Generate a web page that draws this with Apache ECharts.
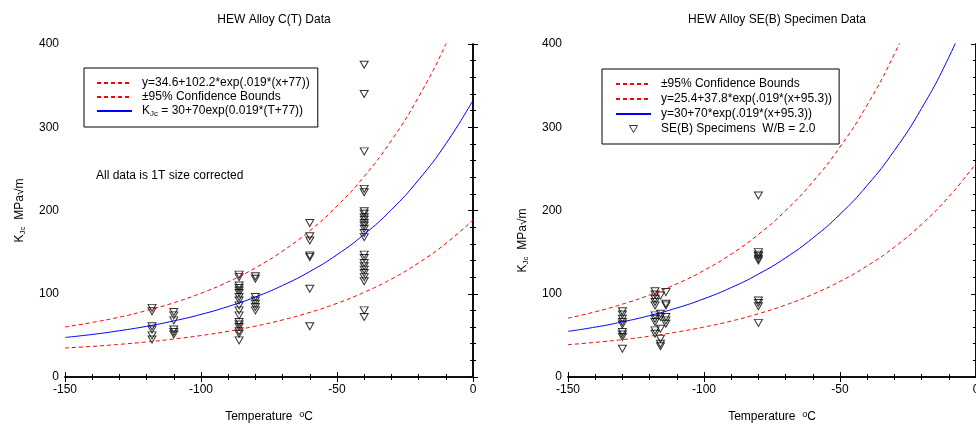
<!DOCTYPE html>
<html>
<head>
<meta charset="utf-8">
<script src="https://cdn.jsdelivr.net/npm/echarts@6.0.0/dist/echarts.min.js"></script>
<style>
  html, body { margin: 0; padding: 0; background: #fff; }
  #chart { width: 976px; height: 429px; }
</style>
</head>
<body>
<div id="chart"></div>
<script>
var tempGrid = [-150, -140, -130, -120, -110, -100, -90, -80, -70, -60, -50, -40, -30, -20, -10, 0];

// C(T) panel curves
var ctFit   = [47.5, 51.1, 55.6, 60.9, 67.4, 75.2, 84.7, 96.1, 110.0, 126.7, 146.9, 171.4, 200.9, 236.8, 280.0, 332.3];
var ctUpper = [60.1, 65.5, 71.9, 79.8, 89.2, 100.6, 114.4, 131.1, 151.3, 175.7, 205.3, 241.0, 284.2, 336.5, 399.7, 476.0];
var ctLower = [34.8, 36.8, 39.2, 42.1, 45.6, 49.8, 54.9, 61.1, 68.6, 77.6, 88.5, 101.8, 117.7, 137.1, 160.4, 188.7];

// SE(B) panel curves
var sebFit   = [54.8, 59.9, 66.2, 73.8, 82.9, 94.0, 107.4, 123.6, 143.2, 166.9, 195.5, 230.2, 272.1, 322.7, 384.0, 458.0];
var sebUpper = [70.7, 78.3, 87.5, 98.5, 111.9, 128.1, 147.6, 171.3, 199.9, 234.5, 276.3, 326.9, 388.0, 462.0, 551.4, 659.5];
var sebLower = [38.8, 41.6, 44.9, 49.0, 54.0, 60.0, 67.2, 76.0, 86.5, 99.3, 114.8, 133.5, 156.1, 183.5, 216.5, 256.5];

// C(T) specimens: test temperature and KJc values at it
var ctTemp = [-118, -110, -86, -80, -60, -40];
var ctKjc = [
  [83, 79, 61, 57, 50, 45],
  [78, 74, 68, 57, 54, 51],
  [123, 120, 110, 107, 104, 101, 96, 92, 86, 80, 74, 66, 63, 60, 55, 52, 44],
  [121, 118, 96, 92, 88, 84, 80],
  [185, 169, 164, 146, 144, 106, 61],
  [375, 340, 271, 226, 222, 199, 196, 192, 189, 185, 182, 178, 173, 168, 147, 143, 137, 133, 129, 125, 120, 115, 80, 72]
];

// SE(B) specimens
var sebTemp = [-130, -118, -116, -114, -80];
var sebKjc = [
  [79, 75, 70, 66, 63, 54, 51, 48, 34],
  [103, 99, 94, 90, 86, 74, 70, 66, 56, 52],
  [98, 76, 72, 58, 46, 40, 37],
  [102, 88, 86, 72, 68, 64],
  [218, 150, 147, 145, 142, 140, 92, 89, 85, 65]
];

var xTicks = { min: -150, max: 0, interval: 50 };
var yTicks = { min: 0, max: 400, interval: 100 };

var FONT = 'Liberation Sans, Arial, sans-serif';

function pairs(xs, ys) {
  return xs.map(function (x, i) { return [x, ys[i]]; });
}
function flatten(temps, groups) {
  var out = [];
  temps.forEach(function (t, i) {
    groups[i].forEach(function (k) { out.push([t, k]); });
  });
  return out;
}

var richText = {
  n: { fontSize: 12, fontFamily: FONT, color: '#000', lineHeight: 14, verticalAlign: 'middle' },
  sub: { fontSize: 8, fontFamily: FONT, color: '#000', lineHeight: 8, verticalAlign: 'bottom' },
  sup: { fontSize: 9, fontFamily: FONT, color: '#000', lineHeight: 9, verticalAlign: 'top' }
};

function frameAxes(gridIndex, kind, extra) {
  var line = { show: true, lineStyle: { color: '#000', width: 1.5 } };
  var tick = { show: true, inside: true, length: 5, lineStyle: { color: '#000' } };
  var minor = { show: true, splitNumber: 5, length: 3, lineStyle: { color: '#000' } };
  var r = kind === 'x' ? xTicks : yTicks;
  return Object.assign({
    type: 'value',
    gridIndex: gridIndex,
    min: r.min, max: r.max, interval: r.interval,
    axisLine: line, axisTick: tick, minorTick: minor,
    splitLine: { show: false }, minorSplitLine: { show: false },
    axisLabel: { show: false }
  }, extra);
}

var xLabel = { show: true, margin: 7, fontSize: 12, fontFamily: FONT, color: '#000' };
var yLabel = { show: true, margin: 6, fontSize: 12, fontFamily: FONT, color: '#000' };
var xName = '{n|Temperature  }{sup|o}{n|C}';
var yName = '{n|K}{sub|Jc}{n|  MPa\u221Am}';

var dashRed = { color: '#ff0000', width: 1, type: [4, 3] };
var solidBlue = { color: '#0000ff', width: 1 };
var openTri = { color: 'rgba(0,0,0,0)', borderColor: '#000', borderWidth: 1 };
var triangle = {
  type: 'scatter', symbol: 'triangle', symbolRotate: 180, symbolSize: [8, 7],
  itemStyle: openTri
};

function curve(name, xi, yi, ys, style) {
  return {
    name: name, type: 'line', xAxisIndex: xi, yAxisIndex: yi,
    data: pairs(tempGrid, ys), smooth: true, symbol: 'none', showSymbol: false,
    lineStyle: style, itemStyle: { color: style.color }, clip: true, silent: true
  };
}

// legend entries: line items hide the marker, the specimen item gets a small down triangle
function lineItem(name) {
  return { name: name, itemStyle: { opacity: 0 } };
}
var triIcon = 'path://M0,0M35,7M13.5,0L21.5,0L17.5,7Z';

var legendText = { fontSize: 12, fontFamily: FONT, color: '#000', padding: [0, 0, 0, 5], rich: richText };

var option = {
  animation: false,
  backgroundColor: '#fff',
  title: [
    { text: 'HEW Alloy C(T) Data', left: 269, top: 9, textAlign: 'center',
      textStyle: { fontSize: 12, fontWeight: 'normal', fontFamily: FONT, color: '#000' } },
    { text: 'HEW Alloy SE(B) Specimen Data', left: 772, top: 9, textAlign: 'center',
      textStyle: { fontSize: 12, fontWeight: 'normal', fontFamily: FONT, color: '#000' } }
  ],
  grid: [
    { left: 65, right: 503, top: 44, bottom: 52, outerBoundsMode: 'none' },
    { left: 568, right: 0, top: 44, bottom: 52, outerBoundsMode: 'none' }
  ],
  xAxis: [
    frameAxes(0, 'x', { position: 'bottom', axisLabel: xLabel, name: xName, nameLocation: 'middle', nameGap: 33,
      nameTextStyle: { rich: richText } }),
    frameAxes(0, 'x', { position: 'top' }),
    frameAxes(1, 'x', { position: 'bottom', axisLabel: xLabel, name: xName, nameLocation: 'middle', nameGap: 33,
      nameTextStyle: { rich: richText } }),
    frameAxes(1, 'x', { position: 'top' })
  ],
  yAxis: [
    frameAxes(0, 'y', { position: 'left', axisLabel: yLabel, name: yName, nameLocation: 'middle', nameGap: 38,
      nameTextStyle: { rich: richText } }),
    frameAxes(0, 'y', { position: 'right' }),
    frameAxes(1, 'y', { position: 'left', axisLabel: yLabel, name: yName, nameLocation: 'middle', nameGap: 38,
      nameTextStyle: { rich: richText, padding: [0, 60, 0, 0] } }),
    frameAxes(1, 'y', { position: 'right' })
  ],
  legend: [
    {
      orient: 'vertical', left: 84, top: 68, selectedMode: false,
      itemWidth: 35, itemHeight: 7, itemGap: 2,
      padding: [9, 8, 9, 12], borderColor: '#000', borderWidth: 1, backgroundColor: '#fff',
      data: [
        lineItem('y=34.6+102.2*exp(.019*(x+77))'),
        lineItem('\u00B195% Confidence Bounds '),
        lineItem('KJc = 30+70exp(0.019*(T+77))')
      ],
      formatter: function (name) {
        if (name.indexOf('KJc') === 0) return '{n|K}{sub|Jc}{n| = 30+70exp(0.019*(T+77))}';
        return '{n|' + name.trim() + '}';
      },
      textStyle: legendText
    },
    {
      orient: 'vertical', left: 602, top: 69, selectedMode: false,
      itemWidth: 35, itemHeight: 7, itemGap: 3,
      padding: [9, 7, 9, 13], borderColor: '#000', borderWidth: 1, backgroundColor: '#fff',
      data: [
        lineItem('\u00B195% Confidence Bounds'),
        lineItem('y=25.4+37.8*exp(.019*(x+95.3))'),
        lineItem('y=30+70*exp(.019*(x+95.3))'),
        { name: 'SE(B) Specimens  W/B = 2.0', icon: triIcon, symbolRotate: 0, itemStyle: openTri }
      ],
      formatter: function (name) { return '{n|' + name + '}'; },
      textStyle: legendText
    }
  ],
  graphic: [
    { type: 'text', left: 96, top: 170,
      style: { text: 'All data is 1T size corrected', fontSize: 12, fontFamily: FONT, fill: '#000' } }
  ],
  series: [
    curve('y=34.6+102.2*exp(.019*(x+77))', 0, 0, ctUpper, dashRed),
    curve('\u00B195% Confidence Bounds ', 0, 0, ctLower, dashRed),
    curve('KJc = 30+70exp(0.019*(T+77))', 0, 0, ctFit, solidBlue),
    Object.assign({ name: 'C(T) Specimens', xAxisIndex: 0, yAxisIndex: 0, data: flatten(ctTemp, ctKjc) }, triangle),

    curve('\u00B195% Confidence Bounds', 2, 2, sebUpper, dashRed),
    curve('y=25.4+37.8*exp(.019*(x+95.3))', 2, 2, sebLower, dashRed),
    curve('y=30+70*exp(.019*(x+95.3))', 2, 2, sebFit, solidBlue),
    Object.assign({ name: 'SE(B) Specimens  W/B = 2.0', xAxisIndex: 2, yAxisIndex: 2, data: flatten(sebTemp, sebKjc) }, triangle)
  ]
};

var chart = echarts.init(document.getElementById('chart'), null, { renderer: 'canvas' });
chart.setOption(option);
</script>
</body>
</html>
